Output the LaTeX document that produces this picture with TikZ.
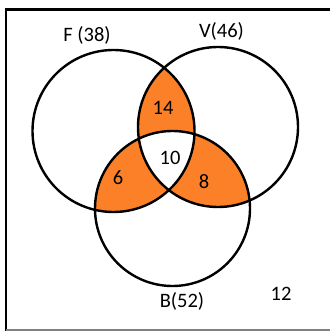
\documentclass[tikz,border=0pt]{standalone}
\usepackage{fontspec}
\setmainfont{Carlito}
\definecolor{vorange}{RGB}{252,128,40}
\begin{document}
\begin{tikzpicture}[x=1pt,y=-1pt,
  ring/.style={draw=black,line width=2.4pt},
  lbl/.style={inner sep=0pt,font=\fontsize{20.5}{24}\selectfont,text=black}]
\useasboundingbox (0,0) rectangle (329,331);
\coordinate (cF) at (113.5,131);
\coordinate (cV) at (218,127);
\coordinate (cB) at (172.5,208.5);
% frame
\draw[line width=2.2pt] (6,340) -- (6,9.5) -- (340,9.5);
\draw[line width=1.5pt,gray] (6,330) -- (340,330);
% shaded pairwise intersections
\begin{scope}
  \clip (cF) circle (81);
  \fill[vorange] (cV) circle (80);
  \fill[vorange] (cB) circle (77.5);
\end{scope}
\begin{scope}
  \clip (cV) circle (80);
  \fill[vorange] (cB) circle (77.5);
\end{scope}
\begin{scope}
  \clip (cF) circle (81);
  \clip (cV) circle (80);
  \fill[white] (cB) circle (77.5);
\end{scope}
% circles
\draw[ring] (cF) circle (81);
\draw[ring] (cV) circle (80);
\draw[ring] (cB) circle (77.5);
% labels
\node[lbl] (lF) at (87,35.5) {F (38)};
\node[lbl] (lV) at (221.5,31) {V(46)};
\node[lbl] (lB) at (182,301.5) {B(52)};
\node[lbl] (n12) at (281,294) {12};
\node[lbl] (n14) at (163,108) {14};
\node[lbl] (n10) at (170,158) {10};
\node[lbl] (n6) at (118,178) {6};
\node[lbl] (n8) at (204,182) {8};
\end{tikzpicture}
\end{document}
